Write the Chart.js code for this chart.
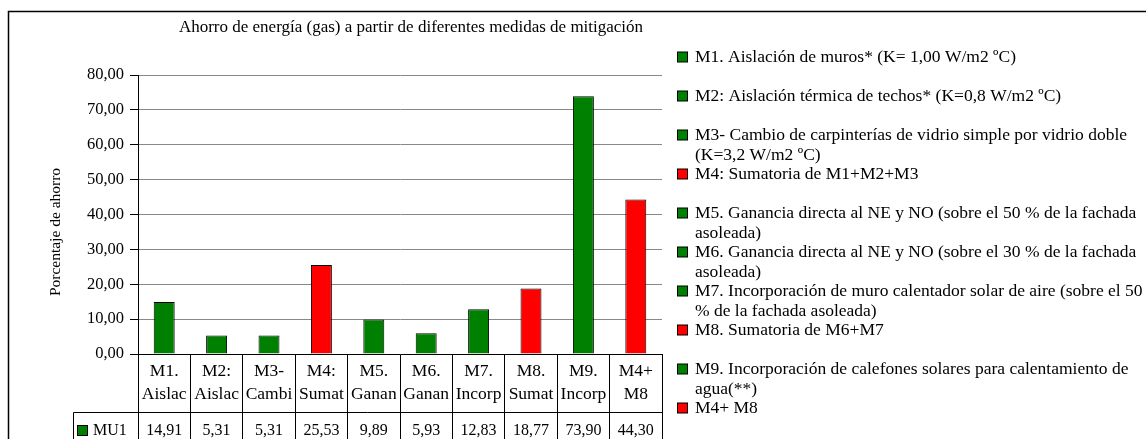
<!DOCTYPE html>
<html>
<head>
<meta charset="utf-8">
<script src="https://cdn.jsdelivr.net/npm/chart.js@4/dist/chart.umd.min.js"></script>
<style>
  html, body { margin: 0; padding: 0; background: #fff; }
  #caja { width: 1146px; height: 439px; position: relative; }
</style>
</head>
<body>
<div id="caja"><canvas id="ahorroGas"></canvas></div>
<script>
// datos
const titulo = 'Ahorro de energía (gas) a partir de diferentes medidas de mitigación'
const tituloY = 'Porcentaje de ahorro'
const serie = 'MU1'
const categorias = [
    ['M1.', 'Aislac'], ['M2:', 'Aislac'], ['M3-', 'Cambi'], ['M4:', 'Sumat'], ['M5.', 'Ganan'],
    ['M6.', 'Ganan'], ['M7.', 'Incorp'], ['M8.', 'Sumat'], ['M9.', 'Incorp'], ['M4+', 'M8']
]
const valores = [14.91, 5.31, 5.31, 25.53, 9.89, 5.93, 12.83, 18.77, 73.90, 44.30]
const yMin = 0, yMax = 80, yPaso = 10
// textos de la leyenda (con los cortes de linea del original)
const leyenda = [
    ['M1. Aislación de muros* (K= 1,00 W/m2 ºC)'],
    ['M2: Aislación térmica de techos* (K=0,8 W/m2 ºC)'],
    ['M3- Cambio de carpinterías de vidrio simple por vidrio doble', '(K=3,2 W/m2 ºC)'],
    ['M4: Sumatoria de M1+M2+M3'],
    ['M5. Ganancia directa al NE y NO (sobre el 50 % de la fachada', 'asoleada)'],
    ['M6. Ganancia directa al NE y NO (sobre el 30 % de la fachada', 'asoleada)'],
    ['M7. Incorporación de muro calentador solar de aire (sobre el 50', '% de la fachada asoleada)'],
    ['M8. Sumatoria de M6+M7'],
    ['M9. Incorporación de calefones solares para calentamiento de', 'agua(**)'],
    ['M4+ M8']
]

// colores: verde para medidas simples, rojo para sumatorias
const VERDE = '#008000', ROJO = '#ff0000'
const coloresBarras = [VERDE, VERDE, VERDE, ROJO, VERDE, VERDE, VERDE, ROJO, VERDE, ROJO]

const FUENTE = '"Liberation Serif", "Times New Roman", serif'
const coma = v => v.toFixed(2).replace('.', ',')

// plugin que dibuja titulo, leyenda y la fila de valores de la tabla
const extras = {
    id: 'extras',
    afterDraw(chart) {
        const ctx = chart.ctx, area = chart.chartArea, x = chart.scales.x
        ctx.save()

        // marco exterior
        ctx.strokeStyle = '#000'
        ctx.lineWidth = 1.5
        ctx.beginPath()
        ctx.moveTo(8.5, chart.height + 2)
        ctx.lineTo(8.5, 11.5)
        ctx.lineTo(chart.width + 2, 11.5)
        ctx.stroke()

        // titulo
        ctx.fillStyle = '#000'
        ctx.font = '17px ' + FUENTE
        ctx.textAlign = 'center'
        ctx.textBaseline = 'middle'
        ctx.fillText(titulo, 411, 28)

        // titulo eje y
        ctx.save()
        ctx.translate(56, 232)
        ctx.rotate(-Math.PI / 2)
        ctx.font = '15.5px ' + FUENTE
        ctx.fillText(tituloY, 0, 0)
        ctx.restore()

        // leyenda a la derecha
        ctx.font = '17.5px ' + FUENTE
        ctx.textAlign = 'left'
        leyenda.forEach(function (lineas, i) {
            let y = 57 + 39 * i
            ctx.fillStyle = coloresBarras[i]
            ctx.fillRect(677.5, y - 5, 10, 10)
            ctx.strokeStyle = '#000'
            ctx.lineWidth = 1
            ctx.strokeRect(677.5, y - 5, 10, 10)
            ctx.fillStyle = '#000'
            lineas.forEach(function (t, j) {
                ctx.fillText(t, 695, y + j * 20)
            })
        })

        // fila de valores de la tabla
        let filaY = Math.round(area.bottom + 58) + 0.5
        ctx.strokeStyle = '#000'
        ctx.lineWidth = 1
        ctx.beginPath()
        ctx.moveTo(73.5, filaY)
        ctx.lineTo(area.right, filaY)
        ctx.moveTo(73.5, filaY)
        ctx.lineTo(73.5, chart.height + 2)
        ctx.stroke()

        ctx.font = '16px ' + FUENTE
        ctx.fillStyle = VERDE
        ctx.fillRect(77.5, 425.5, 10, 10)
        ctx.strokeRect(77.5, 425.5, 10, 10)
        ctx.fillStyle = '#000'
        ctx.fillText(serie, 93, 431)

        ctx.textAlign = 'center'
        valores.forEach(function (v, i) {
            ctx.fillText(coma(v), x.getPixelForValue(i), 431)
        })
        ctx.restore()
    }
}

document.addEventListener('DOMContentLoaded', function () {
    const lienzo = document.getElementById('ahorroGas')
    new Chart(lienzo, {
        type: 'bar',
        data: {
            labels: categorias,
            datasets: [{
                label: serie,
                data: valores,
                backgroundColor: coloresBarras,
                borderColor: '#000',
                borderWidth: 1,
                barPercentage: 0.4,
                categoryPercentage: 1
            }]
        },
        options: {
            responsive: true,
            maintainAspectRatio: false,
            animation: false,
            layout: { padding: { top: 75, right: 484, left: 0, bottom: 0 } },
            plugins: {
                legend: { display: false },
                title: { display: false },
                tooltip: { enabled: false }
            },
            scales: {
                x: {
                    afterFit: function (s) { s.height = 85 },
                    grid: {
                        offset: true,
                        drawOnChartArea: false,
                        tickLength: 85,
                        color: '#000'
                    },
                    border: { color: '#000' },
                    ticks: {
                        color: '#000',
                        padding: -79,
                        maxRotation: 0,
                        autoSkip: false,
                        font: { family: FUENTE, size: 17.5, lineHeight: 1.3 }
                    }
                },
                y: {
                    min: yMin,
                    max: yMax,
                    afterFit: function (s) { s.width = 138 },
                    grid: { color: '#888', tickColor: '#000', tickLength: 8 },
                    border: { color: '#000' },
                    ticks: {
                        stepSize: yPaso,
                        color: '#000',
                        padding: 6,
                        font: { family: FUENTE, size: 16.5 },
                        callback: v => coma(v)
                    }
                }
            }
        },
        plugins: [extras]
    })
})
</script>
</body>
</html>
